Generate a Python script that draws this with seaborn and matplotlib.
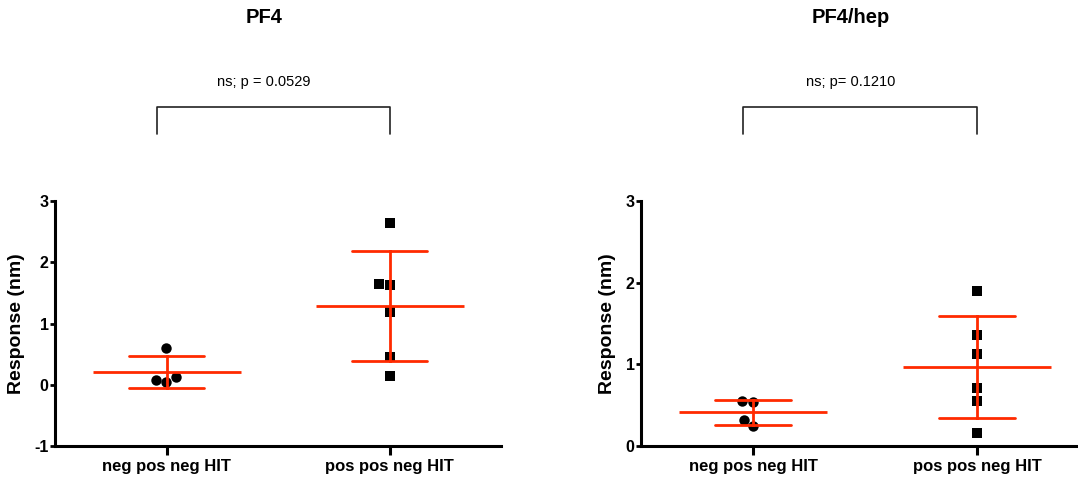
import numpy as np
import pandas as pd
import matplotlib
matplotlib.use("Agg")
import matplotlib.pyplot as plt
import seaborn as sns
from matplotlib.transforms import blended_transform_factory

# ---------------- data ----------------
categories = ["neg pos neg HIT", "pos pos neg HIT"]
pf4_neg = [0.60, 0.12, 0.05, 0.08]
pf4_pos = [2.64, 1.65, 1.63, 1.19, 0.46, 0.15]
hep_neg = [0.55, 0.54, 0.32, 0.25]
hep_pos = [1.90, 1.36, 1.13, 0.71, 0.55, 0.16]
titles = ["PF4", "PF4/hep"]
p_labels = ["ns; p = 0.0529", "ns; p= 0.1210"]
ylims = [(-1, 3), (0, 3)]
yticks = [[-1, 0, 1, 2, 3], [0, 1, 2, 3]]
ylabel = "Response (nm)"

sns.set_style("ticks")
plt.rcParams["font.family"] = ["Liberation Sans", "DejaVu Sans"]
plt.rcParams.update({
    "text.color": "black",
    "axes.labelcolor": "black",
    "xtick.color": "black",
    "ytick.color": "black",
    "axes.edgecolor": "black",
})

RED = "#FF2A00"
W, H = 1078, 480
fig = plt.figure(figsize=(W / 100, H / 100), dpi=100)
ax1 = fig.add_axes([55 / W, 34 / H, 446 / W, 245 / H])
ax2 = fig.add_axes([641 / W, 34 / H, 448 / W, 245 / H])

panels = [(ax1, pf4_neg, pf4_pos), (ax2, hep_neg, hep_pos)]
for i, (ax, neg, pos) in enumerate(panels):
    df = pd.DataFrame({
        "group": [categories[0]] * len(neg) + [categories[1]] * len(pos),
        "value": neg + pos,
    })
    df_neg = df[df.group == categories[0]]
    df_pos = df[df.group == categories[1]]
    sns.swarmplot(data=df_neg, x="group", y="value", order=categories,
                  marker="o", color="black", size=7.5, ax=ax, zorder=3)
    sns.swarmplot(data=df_pos, x="group", y="value", order=categories,
                  marker="s", color="black", size=7.5, ax=ax, zorder=3)
    sns.pointplot(data=df, x="group", y="value", order=categories,
                  errorbar="sd", capsize=0.338, color=RED, markers="_",
                  linestyle="none", markersize=107, markeredgewidth=2,
                  err_kws={"linewidth": 2}, ax=ax, zorder=5)

    ax.set_xlim(-0.5, 1.5)
    ax.set_ylim(*ylims[i])
    ax.set_yticks(yticks[i])
    ax.set_yticklabels([str(t) for t in yticks[i]], fontsize=11.5,
                       fontweight="bold", color="black")
    ax.set_xticks([0, 1])
    ax.set_xticklabels(categories, fontsize=12, fontweight="bold", color="black")
    ax.set_xlabel("")
    ax.set_ylabel(ylabel, fontsize=14, fontweight="bold", labelpad=7,
                  color="black")
    for s in ["top", "right"]:
        ax.spines[s].set_visible(False)
    for s in ["left", "bottom"]:
        ax.spines[s].set_linewidth(2.2)
        ax.spines[s].set_color("black")
    ax.tick_params(axis="y", length=3.6, width=2, pad=1, colors="black")
    ax.tick_params(axis="x", length=6.5, width=2.2, pad=3, colors="black")

    # title and significance bracket
    ax.text(0.469, 1.751, titles[i], transform=ax.transAxes, ha="center",
            va="center", fontsize=14.5, fontweight="bold", color="black")
    ax.text(0.467, 1.486, p_labels[i], transform=ax.transAxes, ha="center",
            va="center", fontsize=10.5, color="black")
    tr = blended_transform_factory(ax.transData, ax.transAxes)
    x0, x1 = 0 - 0.043, 1
    ax.plot([x0, x0, x1, x1], [1.273, 1.384, 1.384, 1.273], transform=tr,
            clip_on=False, color="#222222", lw=1.2)

fig.savefig("out.png", dpi=100)
